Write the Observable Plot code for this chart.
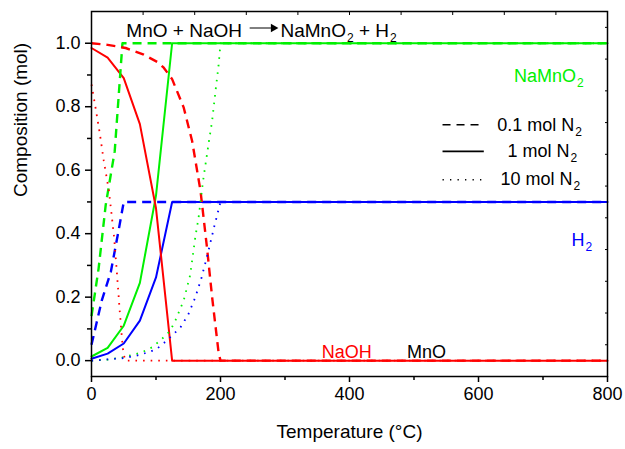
<!DOCTYPE html>
<html><head><meta charset="utf-8">
<script src="https://cdn.jsdelivr.net/npm/d3@7"></script>
<script src="https://cdn.jsdelivr.net/npm/@observablehq/plot@0.6"></script>
<style>
body{margin:0;background:#fff}
svg{font-family:"Liberation Sans",Arial,sans-serif}
</style>
</head><body><div id="chart"></div>
<script>
// Tick values
const xTicks = [0, 200, 400, 600, 800];
const xMinor = [100, 300, 500, 700];
const yTicks = [0, 0.2, 0.4, 0.6, 0.8, 1.0];
const yMinor = [0.1, 0.3, 0.5, 0.7, 0.9];
const topTicks = [0, 80, 160, 240, 320, 400, 480, 560, 640, 720, 800];
const rightTicks = [0.05, 0.15, 0.25, 0.35, 0.45, 0.55, 0.65, 0.75, 0.85, 0.95, 1.05];

// [temperature °C, composition mol]
const naoh_01 = [[0,1.0],[25,0.995],[53,0.985],[80,0.965],[103,0.94],[112,0.923],[125,0.887],[143,0.797],[156,0.692],[169,0.535],[179,0.357],[187,0.2],[197,0.026],[200,0],[800,0]];
const naoh_1  = [[0,0.985],[25,0.955],[50,0.89],[75,0.745],[100,0.48],[125,0],[800,0]];
const naoh_10 = [[0,0.87],[6,0.8],[13,0.714],[19,0.63],[27,0.535],[35,0.39],[40,0.26],[44,0.15],[48.5,0.04],[52,0],[800,0]];
const namno2_01 = [[0,0.14],[11,0.29],[22,0.49],[36,0.66],[48,1.0],[800,1.0]];
const namno2_1  = [[0,0.013],[25,0.04],[50,0.11],[75,0.245],[100,0.52],[125,1.0],[800,1.0]];
const namno2_10 = [[0,0],[25,0.003],[48,0.01],[63,0.018],[78,0.026],[94,0.042],[109,0.068],[122,0.094],[130,0.126],[143,0.19],[153,0.27],[161,0.39],[166,0.45],[173,0.567],[182,0.69],[187,0.755],[192,0.845],[197,0.93],[200,1.0],[800,1.0]];
const h2_01 = [[0,0.05],[8,0.12],[16,0.19],[30,0.28],[42,0.41],[50,0.5],[800,0.5]];
const h2_1  = [[0,0.006],[25,0.022],[50,0.054],[75,0.126],[100,0.262],[125,0.5],[800,0.5]];
const h2_10 = [[0,0],[50,0.008],[75,0.018],[100,0.035],[112,0.055],[125,0.079],[138,0.105],[150,0.145],[161,0.2],[170,0.257],[180,0.335],[190,0.42],[200,0.5],[800,0.5]];

const legendLabels = ["0.1 mol N{2}", "1 mol N{2}", "10 mol N{2}"];
const speciesLabels = ["NaMnO{2}", "H{2}", "NaOH", "MnO"];

const RED = "#ff0000", GREEN = "#00f000", BLUE = "#0000ff";
const DASH = "9,6", DOT = "1.6,6";

const solid = (data, color) => Plot.line(data, {x: d => d[0], y: d => d[1], stroke: color, strokeWidth: 2});
const dashed = (data, color) => Plot.line(data, {x: d => d[0], y: d => d[1], stroke: color, strokeWidth: 2.4, strokeDasharray: DASH, strokeLinecap: "butt"});
const dotted = (data, color) => Plot.line(data, {x: d => d[0], y: d => d[1], stroke: color, strokeWidth: 1.8, strokeDasharray: DOT, strokeLinecap: "butt"});

// legend layout (in data units)
const legX1 = 545, legX2 = 609;
const legY = [0.743, 0.659, 0.570];
const legTextX = [629, 645, 634];
const legendRows = legendLabels.map((label, i) => ({label, y: legY[i], tx: legTextX[i], dash: ["8,6", null, "1.3,6.2"][i]}));

const txt = (arr, opts) => Plot.text(arr, {text: d => d, textAnchor: "start", lineAnchor: "middle", fontSize: 18, ...opts});

const chart = Plot.plot({
  width: 625, height: 449,
  marginLeft: 91, marginRight: 18, marginTop: 11, marginBottom: 73,
  x: {domain: [0, 800]},
  y: {domain: [-0.05, 1.1]},
  style: {fontFamily: '"Liberation Sans", Arial, sans-serif', color: "black", background: "white"},
  marks: [
    // solid (1 mol N2)
    solid(namno2_1, GREEN), solid(h2_1, BLUE), solid(naoh_1, RED),
    // dashed (0.1 mol N2)
    dashed(namno2_01, GREEN), dashed(h2_01, BLUE), dashed(naoh_01, RED),
    // dotted (10 mol N2)
    dotted(namno2_10, GREEN), dotted(h2_10, BLUE), dotted(naoh_10, RED),
    Plot.frame({stroke: "black", strokeWidth: 1.5}),
    Plot.axisX({ticks: xTicks, tickSize: 6, tickPadding: 5, fontSize: 18, strokeWidth: 1.5, label: null}),
    Plot.axisX({ticks: xMinor, tickSize: 4, tickFormat: () => "", strokeWidth: 1.5, label: null}),
    Plot.axisX({anchor: "top", ticks: topTicks, tickSize: 3, dy: 3, tickFormat: () => "", strokeWidth: 1, label: null}),
    Plot.axisY({ticks: yTicks, tickSize: 6, tickPadding: 5, fontSize: 18, strokeWidth: 1.5, tickFormat: d3.format(".1f"), label: null}),
    Plot.axisY({ticks: yMinor, tickSize: 4, tickFormat: () => "", strokeWidth: 1.5, label: null}),
    Plot.axisY({anchor: "right", ticks: rightTicks, tickSize: 3, dx: -3, tickFormat: () => "", strokeWidth: 1, label: null}),
    // axis titles
    Plot.text(["Temperature (°C)"], {text: d => d, frameAnchor: "bottom", dy: 61, fontSize: 19}),
    Plot.text(["Composition (mol)"], {text: d => d, frameAnchor: "left", rotate: -90, dx: -71, dy: 3, fontSize: 19}),
    // reaction annotation
    txt(["MnO + NaOH"], {x: 54, y: 1.04, fontSize: 19}),
    Plot.ruleY([1.048], {x1: 246, x2: 279, stroke: "black", strokeWidth: 1}),
    Plot.dot([[282, 1.048]], {x: d => d[0], y: d => d[1], symbol: "triangle", rotate: 90, r: 3.2, fill: "black", stroke: null}),
    txt(["NaMnO{2} + H{2}"], {x: 293, y: 1.04, fontSize: 19}),
    // species labels
    txt([speciesLabels[0]], {x: 655, y: 0.897, fill: GREEN}),
    txt([speciesLabels[1]], {x: 744, y: 0.378, fill: BLUE}),
    txt([speciesLabels[2]], {x: 357, y: 0.026, fill: RED}),
    txt([speciesLabels[3]], {x: 489, y: 0.028, fill: "black"}),
    // legend
    ...legendRows.map(r => Plot.ruleY([r.y], {x1: legX1, x2: legX2, stroke: "black", strokeWidth: r.dash === null ? 1.8 : 1.6, strokeDasharray: r.dash})),
    ...legendRows.map(r => txt([r.label], {x: r.tx, y: r.y, fill: "black"}))
  ]
});

// render subscripts written as {n}
chart.querySelectorAll("text").forEach(t => {
  const s = t.textContent;
  if (!s.includes("{")) return;
  const parts = s.split(/\{([^}]*)\}/);
  t.textContent = "";
  const ns = "http://www.w3.org/2000/svg";
  let shifted = false;
  parts.forEach((p, i) => {
    if (p === "") return;
    const ts = document.createElementNS(ns, "tspan");
    ts.textContent = p;
    if (i % 2 === 1) {
      ts.setAttribute("font-size", "12px");
      ts.setAttribute("dy", "5px");
      ts.setAttribute("dx", "1px");
      shifted = true;
    } else if (shifted) {
      ts.setAttribute("dy", "-5px");
      shifted = false;
    }
    t.appendChild(ts);
  });
});

document.getElementById("chart").appendChild(chart);
</script>
</body></html>
